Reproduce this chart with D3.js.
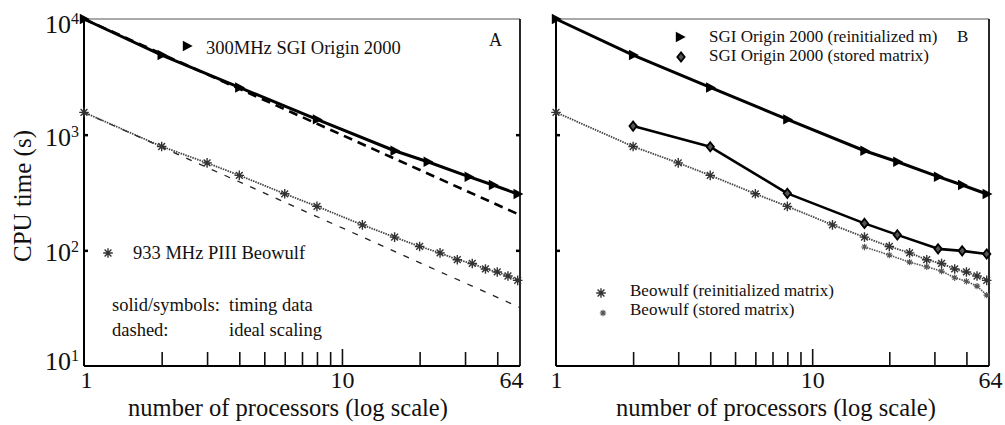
<!DOCTYPE html>
<html><head><meta charset="utf-8">
<script src="https://cdn.jsdelivr.net/npm/d3@7"></script>
<style>
body{margin:0;background:#fff}
svg{display:block}
text{font-family:"Liberation Serif","Times New Roman",serif;fill:#111}
</style>
</head><body><svg id="c" width="1005" height="425"></svg>
<script>
// ---- data ----
const xTickValues = [1, 10, 49];
const xTickLabels = ["1", "10", "64"];
const xMinorTicks = [2, 3, 4, 5, 6, 7, 8, 9, 20, 30, 40];
const yTickValues = [10, 100, 1000, 10000];
const yTickExponents = ["1", "2", "3", "4"];

const sgiProcs = [1, 2, 4, 8, 16, 21.5, 31, 38.5, 48];
const sgiReinit = [10000, 4880, 2560, 1355, 726, 583, 433, 367, 307];
const sgiStoredProcs = [2, 4, 8, 16, 21.5, 31, 38.5, 48];
const sgiStored = [1186, 785, 311, 171, 136, 103, 99, 93];
const beoProcs = [1, 2, 3, 4, 6, 8, 12, 16, 20, 24, 28, 32, 36, 40, 44, 48];
const beoReinit = [1560, 790, 570, 445, 308, 240, 166, 130, 108, 95, 83, 77, 69, 65, 60, 55];
const beoStoredProcs = [16, 20, 24, 28, 32, 36, 40, 44, 48];
const beoStored = [107, 91, 79, 72, 66, 58, 54, 49, 41];
const idealProcs = [1, 49];
const sgiIdeal = [10000, 202];
const beoIdeal = [1560, 32];

const legendA = ["300MHz SGI Origin 2000", "933 MHz PIII Beowulf"];
const legendB = ["SGI Origin 2000 (reinitialized m)", "SGI Origin 2000 (stored matrix)",
                 "Beowulf (reinitialized matrix)", "Beowulf (stored matrix)"];

// ---- layout ----
const svg = d3.select("#c");
const yTopPx = 19, yBotPx = 366;
const y = d3.scaleLog().domain([10, 10000]).range([yBotPx, yTopPx]);
const panels = [
  {x0: 84, x1: 520, title: 288, labelDx: [2, 0, -9]},
  {x0: 556, x1: 989, title: 776, labelDx: [0, 0, 1]}
];
panels.forEach(p => p.x = d3.scaleLog().domain([1, 49]).range([p.x0, p.x1]));

const zip = (xs, ys) => xs.map((v, i) => [v, ys[i]]);

function triPath(s) { return `M${-0.8*s},${-s} L${1.1*s},0 L${-0.8*s},${s} Z`; }
function diaPath(s) { return `M0,${-s} L${0.8*s},0 L0,${s} L${-0.8*s},0 Z`; }
function starPath(r) {
  let d = "";
  for (let k = 0; k < 4; k++) {
    const a = k * Math.PI / 4;
    const dx = r * Math.cos(a), dy = r * Math.sin(a);
    d += `M${-dx},${-dy} L${dx},${dy} `;
  }
  return d;
}

function frame(g, p) {
  g.append("line").attr("x1", p.x0).attr("x2", p.x1).attr("y1", yTopPx).attr("y2", yTopPx)
    .attr("stroke", "#555").attr("stroke-width", 1.2);
  g.append("line").attr("x1", p.x1).attr("x2", p.x1).attr("y1", yTopPx).attr("y2", yBotPx)
    .attr("stroke", "#111").attr("stroke-width", 1.8);
  g.append("line").attr("x1", p.x0).attr("x2", p.x0).attr("y1", yTopPx).attr("y2", yBotPx)
    .attr("stroke", "#000").attr("stroke-width", 2);
  g.append("line").attr("x1", p.x0).attr("x2", p.x1).attr("y1", yBotPx).attr("y2", yBotPx)
    .attr("stroke", "#000").attr("stroke-width", 2);

  const minor = g.append("g").attr("transform", `translate(0,${yBotPx})`)
    .call(d3.axisBottom(p.x).tickValues(xMinorTicks).tickSize(-14).tickFormat(""));
  minor.select(".domain").remove();
  minor.selectAll("line").attr("stroke", "#111").attr("stroke-width", 1.6);
  const ten = g.append("g").attr("transform", `translate(0,${yBotPx})`)
    .call(d3.axisBottom(p.x).tickValues([10]).tickSize(-17).tickFormat(""));
  ten.select(".domain").remove();
  ten.selectAll("line").attr("stroke", "#111").attr("stroke-width", 1.6);

  const lab = g.append("g").attr("transform", `translate(0,${yBotPx})`)
    .call(d3.axisBottom(p.x).tickValues(xTickValues).tickSize(0).tickPadding(22)
      .tickFormat((d, i) => xTickLabels[i]));
  lab.select(".domain").remove();
  lab.selectAll("text").attr("font-size", 24).attr("font-family", "Liberation Serif")
    .attr("fill", "#111").attr("dy", 0).attr("dx", (d, i) => p.labelDx[i]);

  const yl = g.append("g").attr("transform", `translate(${p.x0},0)`)
    .call(d3.axisLeft(y).tickValues([100, 1000]).tickSize(-4).tickFormat(""));
  yl.select(".domain").remove();
  yl.selectAll("line").attr("stroke", "#000").attr("stroke-width", 2.5);

  g.append("text").attr("x", p.title).attr("y", 416).attr("text-anchor", "middle")
    .attr("font-size", 24.5).text("number of processors (log scale)");
}

function drawLine(g, p, pts, opts) {
  const line = d3.line().x(d => p.x(d[0])).y(d => y(d[1]));
  g.append("path").datum(pts).attr("d", line).attr("fill", "none")
    .attr("stroke", opts.color || "#000").attr("stroke-width", opts.w)
    .attr("stroke-dasharray", opts.dash || null)
    .attr("stroke-linejoin", "round");
}

function styleMarker(sel, kind) {
  if (kind === "tri") sel.attr("d", triPath(5.2)).attr("fill", "#000");
  else if (kind === "dia") sel.attr("d", diaPath(4.6)).attr("fill", "#555").attr("stroke", "#000").attr("stroke-width", 1.8);
  else if (kind === "star") sel.attr("d", starPath(4.8)).attr("fill", "none").attr("stroke", "#333").attr("stroke-width", 1.4);
  else if (kind === "smallstar") sel.attr("d", starPath(3.2)).attr("fill", "none").attr("stroke", "#555").attr("stroke-width", 1.1);
}

function drawMarkers(g, p, pts, kind) {
  const sel = g.append("g").selectAll("path").data(pts).join("path")
    .attr("transform", d => `translate(${p.x(d[0])},${y(d[1])})`);
  styleMarker(sel, kind);
}

function legendMarker(g, cx, cy, kind) {
  const sel = g.append("path").attr("transform", `translate(${cx},${cy})`);
  styleMarker(sel, kind);
}

// ---- Panel A ----
const gA = svg.append("g");
const pA = panels[0];
frame(gA, pA);
const yrA = gA.append("g").attr("transform", `translate(${pA.x1},0)`)
  .call(d3.axisRight(y).tickValues([100, 1000]).tickSize(-4).tickFormat(""));
yrA.select(".domain").remove();
yrA.selectAll("line").attr("stroke", "#000").attr("stroke-width", 2.5);

drawLine(gA, pA, zip(idealProcs, beoIdeal), {w: 1.3, dash: "6,8", color: "#222"});
drawLine(gA, pA, zip(idealProcs, sgiIdeal), {w: 2.6, dash: "9,6"});
drawLine(gA, pA, zip(beoProcs, beoReinit), {w: 1.8, dash: "1.5,1", color: "#444"});
drawLine(gA, pA, zip(sgiProcs, sgiReinit), {w: 3});
drawMarkers(gA, pA, zip(beoProcs, beoReinit), "star");
drawMarkers(gA, pA, zip(sgiProcs, sgiReinit), "tri");

yTickValues.forEach((v, i) => {
  const yy = Math.min(Math.max(y(v) + 11, 33), 370);
  const t = gA.append("text").attr("x", 79).attr("y", yy).attr("text-anchor", "end")
    .attr("font-size", 26);
  t.append("tspan").text("10");
  t.append("tspan").attr("font-size", 16).attr("dy", -9).text(yTickExponents[i]);
});
gA.append("text").attr("transform", "translate(31,196) rotate(-90)")
  .attr("text-anchor", "middle").attr("font-size", 25).text("CPU time (s)");

legendMarker(gA, 187, 46, "tri");
gA.append("text").attr("x", 206).attr("y", 54).attr("font-size", 18.5).text(legendA[0]);
gA.append("text").attr("x", 489).attr("y", 46).attr("font-size", 18).text("A");
legendMarker(gA, 108, 253, "star");
gA.append("text").attr("x", 133).attr("y", 259).attr("font-size", 18.5).text(legendA[1]);
gA.append("text").attr("x", 112).attr("y", 311).attr("font-size", 18.5).text("solid/symbols:");
gA.append("text").attr("x", 229).attr("y", 311).attr("font-size", 18.5).text("timing data");
gA.append("text").attr("x", 112).attr("y", 336).attr("font-size", 18.5).text("dashed:");
gA.append("text").attr("x", 229).attr("y", 336).attr("font-size", 18.5).text("ideal scaling");

// ---- Panel B ----
const gB = svg.append("g");
const pB = panels[1];
frame(gB, pB);
drawLine(gB, pB, zip(beoStoredProcs, beoStored), {w: 1.6, dash: "1.5,1", color: "#555"});
drawLine(gB, pB, zip(beoProcs, beoReinit), {w: 1.8, dash: "1.5,1", color: "#444"});
drawLine(gB, pB, zip(sgiStoredProcs, sgiStored), {w: 2.6});
drawLine(gB, pB, zip(sgiProcs, sgiReinit), {w: 3});
drawMarkers(gB, pB, zip(beoStoredProcs, beoStored), "smallstar");
drawMarkers(gB, pB, zip(beoProcs, beoReinit), "star");
drawMarkers(gB, pB, zip(sgiStoredProcs, sgiStored), "dia");
drawMarkers(gB, pB, zip(sgiProcs, sgiReinit), "tri");

legendMarker(gB, 680, 37, "tri");
gB.append("text").attr("x", 709).attr("y", 42).attr("font-size", 17).text(legendB[0]);
gB.append("text").attr("x", 957).attr("y", 42).attr("font-size", 17).text("B");
legendMarker(gB, 681, 57, "dia");
gB.append("text").attr("x", 709).attr("y", 61).attr("font-size", 17).text(legendB[1]);
legendMarker(gB, 601, 293, "star");
gB.append("text").attr("x", 630).attr("y", 296).attr("font-size", 17).text(legendB[2]);
legendMarker(gB, 603, 313, "smallstar");
gB.append("text").attr("x", 630).attr("y", 315).attr("font-size", 17).text(legendB[3]);
</script>
</body></html>
